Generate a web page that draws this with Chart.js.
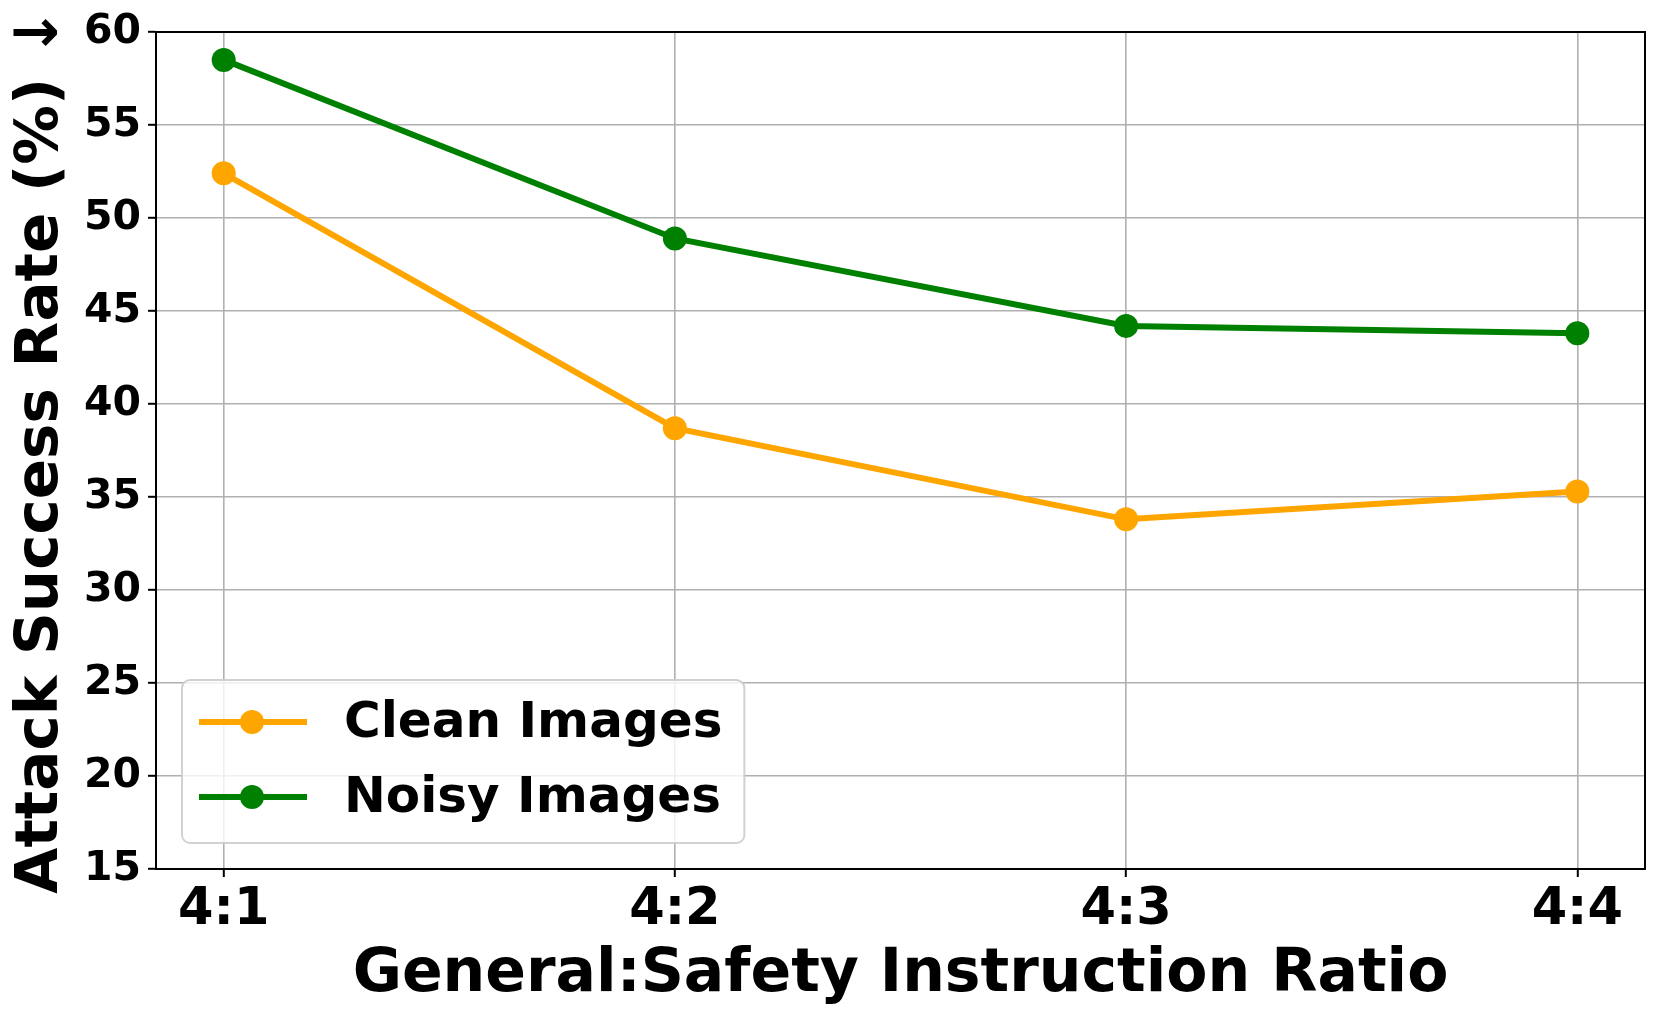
<!DOCTYPE html>
<html><head><meta charset="utf-8">
<script src="https://cdn.jsdelivr.net/npm/chart.js@4.4.1/dist/chart.umd.min.js"></script>
<style>html,body{margin:0;padding:0;background:#fff;} #wrap{width:1662px;height:1018px;}</style>
</head><body><div id="wrap"><canvas id="c" width="1662" height="1018"></canvas></div>
<script>
const categories = ['4:1', '4:2', '4:3', '4:4'];
const cleanImages = [52.4, 38.7, 33.8, 35.3];
const noisyImages = [58.5, 48.9, 44.2, 43.8];
const seriesNames = ['Clean Images', 'Noisy Images'];
const yTicks = [15, 20, 25, 30, 35, 40, 45, 50, 55, 60];
const xLabel = 'General:Safety Instruction Ratio';
const yLabel = 'Attack Success Rate (%) ↓';

const FAM = '"DejaVu Sans", sans-serif';

const frame = {
  id: 'frame',
  afterDatasetsDraw(chart) {
    const {ctx, chartArea: a} = chart;
    ctx.save();
    ctx.strokeStyle = '#000'; ctx.lineWidth = 2;
    ctx.strokeRect(a.left, a.top, a.right - a.left, a.bottom - a.top);
    ctx.restore();
  }
};

const mplLegend = {
  id: 'mplLegend',
  afterDraw(chart) {
    const {ctx, chartArea: a} = chart;
    ctx.save();
    ctx.font = 'bold 50px ' + FAM;
    const tw = Math.max(...chart.data.datasets.map(d => ctx.measureText(d.label).width));
    const x0 = a.left + 26, h = 163, y0 = a.bottom - 26 - h;
    const w = 162 + tw + 22;
    ctx.beginPath();
    ctx.roundRect(x0, y0, w, h, 8);
    ctx.fillStyle = 'rgba(255,255,255,0.8)'; ctx.fill();
    ctx.strokeStyle = 'rgba(204,204,204,0.9)'; ctx.lineWidth = 2; ctx.stroke();
    chart.data.datasets.forEach((ds, i) => {
      const cy = y0 + 42 + i * 75;
      ctx.strokeStyle = ds.borderColor; ctx.lineWidth = ds.borderWidth;
      ctx.beginPath(); ctx.moveTo(x0 + 17, cy); ctx.lineTo(x0 + 125, cy); ctx.stroke();
      ctx.fillStyle = ds.borderColor;
      ctx.beginPath(); ctx.arc(x0 + 70, cy, ds.pointRadius, 0, 2 * Math.PI); ctx.fill();
      ctx.fillStyle = '#000'; ctx.textBaseline = 'middle'; ctx.textAlign = 'left';
      ctx.fillText(ds.label, x0 + 162, cy + 2);
    });
    ctx.restore();
  }
};

function mkDataset(label, values, color) {
  return {
    label,
    data: values.map((v, i) => ({x: i, y: v})),
    borderColor: color, backgroundColor: color,
    pointBackgroundColor: color, pointBorderColor: color,
    borderWidth: 6, pointRadius: 12, pointBorderWidth: 0, pointHoverRadius: 12,
    tension: 0, clip: false
  };
}

new Chart(document.getElementById('c'), {
  type: 'line',
  data: {
    datasets: [
      mkDataset(seriesNames[0], cleanImages, '#FFA500'),
      mkDataset(seriesNames[1], noisyImages, '#008000')
    ]
  },
  options: {
    responsive: false, animation: false, devicePixelRatio: 1,
    layout: {padding: {left: 0, top: 32, right: 17, bottom: 0}},
    plugins: {legend: {display: false}, tooltip: {enabled: false}},
    scales: {
      x: {
        type: 'linear', min: -0.15, max: 3.15,
        afterBuildTicks: s => { s.ticks = categories.map((_, i) => ({value: i})); },
        afterFit: s => { s.height = 149; },
        ticks: {callback: v => categories[v], color: '#000', font: {family: FAM, weight: 'bold', size: 51}, padding: 3, maxRotation: 0, autoSkip: false},
        grid: {color: '#b0b0b0', lineWidth: 1.6, tickColor: '#000', tickLength: 8, tickWidth: 2},
        border: {display: true, color: '#000', width: 2},
        title: {display: true, text: xLabel, color: '#000', font: {family: FAM, weight: 'bold', size: 60}, padding: {top: 0, bottom: 7}}
      },
      y: {
        min: 15, max: 60,
        afterBuildTicks: s => { s.ticks = yTicks.map(v => ({value: v})); },
        afterFit: s => { s.width = 156; },
        ticks: {color: '#000', font: {family: FAM, weight: 'bold', size: 41}, padding: 7},
        grid: {color: '#b0b0b0', lineWidth: 1.6, tickColor: '#000', tickLength: 8, tickWidth: 2},
        border: {display: true, color: '#000', width: 2},
        title: {display: true, text: yLabel, color: '#000', font: {family: FAM, weight: 'bold', size: 59.5}, padding: {top: 6, bottom: 0}}
      }
    }
  },
  plugins: [frame, mplLegend]
});
</script></body></html>
